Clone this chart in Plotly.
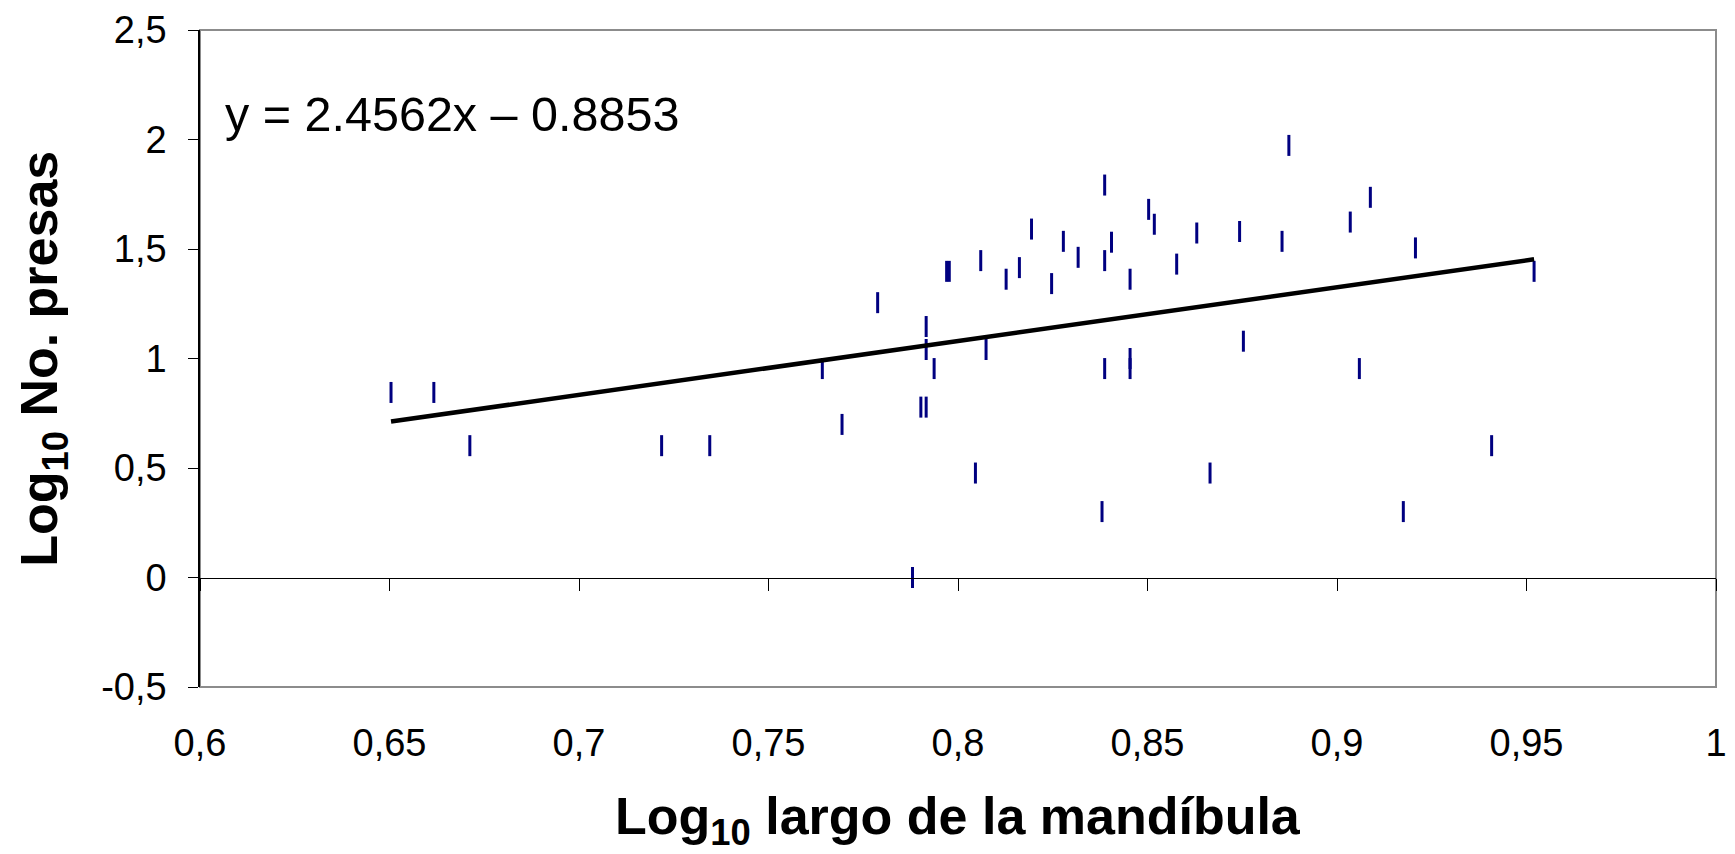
import plotly.graph_objects as go

# ---- data ----
log_mandibula = [0.6504, 0.6617, 0.6712, 0.7218, 0.7345, 0.7642, 0.7694, 0.7788,
                 0.7880, 0.7902, 0.7916, 0.7916, 0.7916, 0.7937, 0.7970, 0.7977,
                 0.8046, 0.8060, 0.8074, 0.8127, 0.8162, 0.8194, 0.8247, 0.8278,
                 0.8317, 0.8380, 0.8387, 0.8387, 0.8387, 0.8405, 0.8454, 0.8454,
                 0.8454, 0.8503, 0.8518, 0.8577, 0.8630, 0.8665, 0.8743, 0.8753,
                 0.8855, 0.8873, 0.9035, 0.9059, 0.9088, 0.9175, 0.9207, 0.9408,
                 0.9520]
log_presas = [0.845, 0.845, 0.602, 0.602, 0.602, 0.954, 0.699, 1.255,
              0.000, 0.778, 0.778, 1.146, 1.041, 0.954, 1.398, 1.398,
              0.477, 1.447, 1.041, 1.362, 1.415, 1.591, 1.342, 1.535,
              1.462, 0.301, 0.954, 1.447, 1.792, 1.531, 1.362, 1.000,
              0.954, 1.681, 1.613, 1.431, 1.573, 0.477, 1.580, 1.079,
              1.535, 1.973, 1.623, 0.954, 1.736, 0.301, 1.505, 0.602,
              1.398]

slope = 2.4562
intercept = -0.8853
equation_text = "y = 2.4562x \u2013 0.8853"

x_range = [0.6, 1.0]
y_range = [-0.5, 2.5]
x_tickvals = [0.6, 0.65, 0.7, 0.75, 0.8, 0.85, 0.9, 0.95, 1.0]
x_ticktext = ["0,6", "0,65", "0,7", "0,75", "0,8", "0,85", "0,9", "0,95", "1"]
y_tickvals = [-0.5, 0, 0.5, 1, 1.5, 2, 2.5]
y_ticktext = ["-0,5", "0", "0,5", "1", "1,5", "2", "2,5"]

x_title = "Log<sub>10</sub> largo de la mand\u00edbula"
y_title = "Log<sub>10</sub> No. presas"

FONT = "Liberation Sans, Arial, sans-serif"
TICK_SIZE = 38
TITLE_SIZE = 52

fit_x = [min(log_mandibula), max(log_mandibula)]
fit_y = [slope * v + intercept for v in fit_x]

fig = go.Figure()

fig.add_trace(go.Scatter(
    x=fit_x, y=fit_y, mode="lines",
    line=dict(color="black", width=4.5),
    xaxis="x2", yaxis="y", showlegend=False, hoverinfo="skip",
))

fig.add_trace(go.Scatter(
    x=log_mandibula, y=log_presas, mode="markers",
    marker=dict(symbol="line-ns", size=15,
                line=dict(color="#000080", width=3), color="#000080"),
    showlegend=False,
))

zero_pos = (0 - y_range[0]) / (y_range[1] - y_range[0])

fig.update_layout(
    width=1735, height=854,
    margin=dict(l=200, r=19, t=30, b=167),
    paper_bgcolor="white", plot_bgcolor="white",
    font=dict(family=FONT, color="black", size=TICK_SIZE),
    xaxis=dict(
        range=x_range, tickvals=x_tickvals, ticktext=x_ticktext,
        showgrid=False, zeroline=False, showline=False, ticks="",
        tickfont=dict(size=TICK_SIZE, family=FONT, color="black"),
        ticklabelstandoff=30, automargin=False,
    ),
    xaxis2=dict(
        range=x_range, overlaying="x", anchor="free", position=zero_pos,
        side="bottom", tickvals=x_tickvals, showticklabels=False,
        ticks="outside", ticklen=12, tickwidth=1.3, tickcolor="black",
        showline=True, linecolor="black", linewidth=1.3,
        showgrid=False, zeroline=False, automargin=False,
    ),
    yaxis=dict(
        range=y_range, tickvals=y_tickvals, ticktext=y_ticktext,
        showgrid=False, zeroline=False,
        showline=True, linecolor="black", linewidth=1.5,
        ticks="outside", ticklen=10, tickwidth=1.3, tickcolor="black",
        tickfont=dict(size=TICK_SIZE, family=FONT, color="black"),
        ticklabelstandoff=14, automargin=False,
    ),
    shapes=[dict(type="rect", xref="x domain", yref="y domain",
                 x0=0, x1=1, y0=0, y1=1, layer="below",
                 line=dict(color="#8c8c8c", width=2))],
    annotations=[
        dict(text=equation_text, xref="x domain", yref="y domain",
             x=0.0155, y=0.872, xanchor="left", yanchor="middle",
             showarrow=False, font=dict(size=48.5, family=FONT, color="black")),
        dict(text=x_title, xref="paper", yref="paper",
             x=0.5, y=-0.2025, xanchor="center", yanchor="middle",
             showarrow=False,
             font=dict(size=TITLE_SIZE, family=FONT, color="black", weight="bold")),
        dict(text=y_title, xref="paper", yref="paper", textangle=-90,
             x=-0.104, y=0.5, xanchor="center", yanchor="middle",
             showarrow=False,
             font=dict(size=TITLE_SIZE, family=FONT, color="black", weight="bold")),
    ],
)

fig.write_html(
    "out.html",
    config={"displayModeBar": False},
    post_script="document.body.style.margin='0px';document.body.style.overflow='hidden';",
)
